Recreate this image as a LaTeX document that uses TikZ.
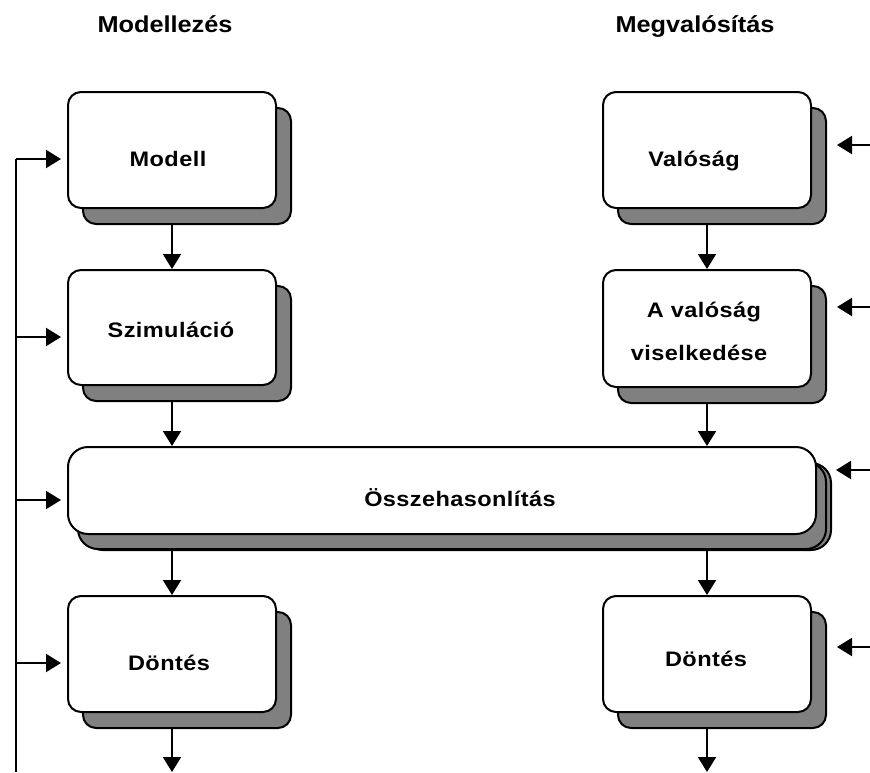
\documentclass[tikz,border=0pt]{standalone}
\usepackage{fontspec}
\setmainfont{Liberation Sans}
\usetikzlibrary{arrows.meta,shadows}
\definecolor{shadowgray}{HTML}{808080}
\begin{document}
\begin{tikzpicture}[x=1pt,y=-1pt,
  box/.style={draw=black, line width=2pt, fill=white, rounded corners=13pt,
    minimum width=208pt, minimum height=116pt, inner sep=0pt,
    general shadow={fill=shadowgray, draw=black, line width=2pt,
      shadow xshift=15pt, shadow yshift=-16pt}},
  widebox/.style={box, rounded corners=20pt, minimum width=748pt, minimum height=87pt,
    general shadow={fill=shadowgray, draw=black, line width=2pt,
      shadow xshift=10pt, shadow yshift=-15pt}},
  txt/.style={font=\fontsize{21}{25}\selectfont\bfseries\addfontfeature{FakeStretch=1.12,LetterSpace=2},
    anchor=base, inner sep=0pt},
  head/.style={txt, font=\fontsize{23}{27}\selectfont\bfseries\addfontfeature{FakeStretch=1.1}},
  line/.style={line width=2pt},
  arr/.style={line width=2pt, -{Triangle[width=18pt,length=15pt]}}]
\useasboundingbox (0,0) rectangle (870,772);

% column headings
\node[head] (h-model) at (165,32) {Modellezés};
\node[head] (h-real) at (695,32) {Megvalósítás};

% boxes: modelling column
\node[box] (modell) at (172,150) {};
\node[box, minimum height=115pt] (szim) at (172,327.5) {};
\node[box] (dontesL) at (172,654) {};
% boxes: realisation column
\node[box] (valosag) at (707,150) {};
\node[box, minimum height=117pt] (viselk) at (707,328.5) {};
\node[box] (dontesR) at (707,654) {};
% comparison box spanning both columns
\node[widebox] (ossze) at (442,490.5) {};

% box texts
\node[txt] (t-modell) at (168,166) {Modell};
\node[txt] (t-szim) at (171,337) {Szimuláció};
\node[txt] (t-dontesL) at (169,670) {Döntés};
\node[txt] (t-valosag) at (694,166) {Valóság};
\node[txt] (t-viselk1) at (704,317) {A valóság};
\node[txt] (t-viselk2) at (699,360) {viselkedése};
\node[txt] (t-dontesR) at (706,666) {Döntés};
\node[txt] (t-ossze) at (460,506) {Összehasonlítás};

% flow down the modelling column
\draw[arr] ([yshift=-16pt]modell.south) -- (szim.north);
\draw[arr] ([yshift=-16pt]szim.south) -- (szim.south |- ossze.north);
\draw[arr] ([yshift=-15pt]ossze.south -| dontesL.south) -- (dontesL.north);
\coordinate (outL) at (dontesL.south |- 0,772);
\draw[arr] ([yshift=-16pt]dontesL.south) -- (outL);

% flow down the realisation column
\draw[arr] ([yshift=-16pt]valosag.south) -- (viselk.north);
\draw[arr] ([yshift=-16pt]viselk.south) -- (viselk.south |- ossze.north);
\draw[arr] ([yshift=-15pt]ossze.south -| dontesR.south) -- (dontesR.north);
\coordinate (outR) at (dontesR.south |- 0,772);
\draw[arr] ([yshift=-16pt]dontesR.south) -- (outR);

% feedback bus on the left
\coordinate (bus-top) at (16,159);
\coordinate (bus-bot) at (16,772);
\coordinate (fb1) at ([yshift=-9pt]modell.west);
\coordinate (fb2) at ([yshift=-9.5pt]szim.west);
\coordinate (fb3) at ([yshift=-9.5pt]ossze.west);
\coordinate (fb4) at ([yshift=-9pt]dontesL.west);
\draw[line] (bus-top) -- (bus-bot);
\draw[arr, shorten >=6pt] (bus-top) -- (fb1);
\draw[arr, shorten >=6pt] (bus-top |- fb2) -- (fb2);
\draw[arr, shorten >=6pt] (bus-top |- fb3) -- (fb3);
\draw[arr, shorten >=6pt] (bus-top |- fb4) -- (fb4);

% external inputs on the right
\coordinate (in1) at (870,145);
\coordinate (in2) at (870,307);
\coordinate (in3) at (870,470);
\coordinate (in4) at (870,647);
\draw[arr, shorten >=25pt] (in1) -- (in1 -| valosag.east);
\draw[arr, shorten >=25pt] (in2) -- (in2 -| viselk.east);
\draw[arr, shorten >=19pt] (in3) -- (in3 -| ossze.east);
\draw[arr, shorten >=25pt] (in4) -- (in4 -| dontesR.east);
\end{tikzpicture}
\end{document}
